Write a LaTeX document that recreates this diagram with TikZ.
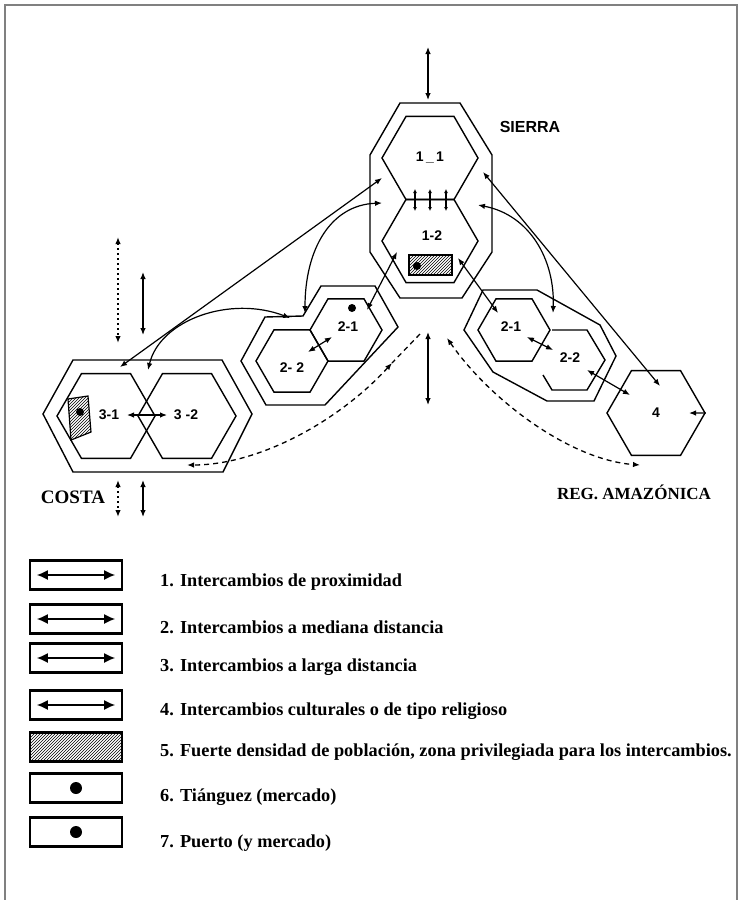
\documentclass[tikz,border=0pt]{standalone}
\usepackage{fontspec}
\setmainfont{Liberation Serif}
\setsansfont{Liberation Sans}
\usetikzlibrary{arrows.meta,shapes.geometric,patterns}

\begin{document}
\begin{tikzpicture}[x=1pt,y=-1pt,
    >={Latex[length=7pt,width=5.5pt]},
    hexa/.style={regular polygon, regular polygon sides=6, draw, line width=1.4pt,
      inner sep=0pt, font=\sffamily\bfseries\fontsize{14}{14}\selectfont},
    hexlabel/.style={inner sep=0pt, font=\sffamily\bfseries\fontsize{14}{14}\selectfont},
    rim/.style={line width=1.4pt, line join=miter},
    flow/.style={<->, line width=1.2pt},
    dashflow/.style={<->, line width=1.3pt, dash pattern=on 5pt off 4pt},
    dotflow/.style={<->, line width=1.6pt, dash pattern=on 2pt off 3pt},
    region/.style={font=\bfseries\fontsize{17}{17}\selectfont},
    keybox/.style={draw, line width=2.4pt, minimum width=92pt, minimum height=29pt, inner sep=0pt},
    keyarrow/.style={{Latex[length=11pt,width=10pt]}-{Latex[length=11pt,width=10pt]}, line width=1.6pt},
    keytext/.style={anchor=west, inner sep=0pt, font=\bfseries\fontsize{18.3}{18.3}\selectfont}]
  \useasboundingbox (0,0) rectangle (741,900);
  % frame
  \draw[gray, line width=1.5pt] (5,900) -- (5,5) -- (737,5) -- (737,900);

  % Sierra
  \draw[rim] (400,103) -- (460,103) -- (492,155) -- (492,252) -- (462,298)
    -- (400,298) -- (370,252) -- (370,155) -- cycle;
  \node[hexa, minimum size=96pt] (h11) at (430,158) {1\,\_\,1};
  \node[hexa, minimum size=96pt] (h12) at (430,241) {};
  \node[hexlabel] (l12) at (432,236) {1-2};
  \draw[pattern=north east lines, line width=1.2pt] (409,255) rectangle (452,275);
  \fill (417,266) circle (4);
  \foreach \xx in {415,430,446}
    \draw[<->, line width=1.4pt, >={Latex[length=4pt,width=4pt]}] (\xx,189) -- (\xx,211);
  \node[font=\sffamily\bfseries\fontsize{16}{16}\selectfont] (sierra) at (530,127) {SIERRA};
  \draw[flow] (428,47) -- (428,100);
  \draw[flow] (428,332) -- (428,405);

  % Sierra - Costa side
  \draw[rim] (241,361) -- (265,317) -- (303,316) -- (321,286) -- (375,286)
    -- (398,327) -- (325,405) -- (266,405) -- cycle;
  \node[hexa, minimum size=72pt] (h22a) at (292,361) {};
  \node[hexa, minimum size=72pt] (h21a) at (346,330) {};
  \node[hexlabel] (l21a) at (348,327) {2-1};
  \node[hexlabel] (l22a) at (292,368) {2- 2};
  \fill (352,308) circle (4);
  \draw[flow] (332,337) -- (308,352);
  \draw[flow] (397,252) -- (367,310);
  \draw[flow] (305,313) .. controls (305,250) and (330,205) .. (382,203);

  % Sierra - Amazonia side
  \draw[rim] (464,330) -- (483,290) -- (537,290) -- (600,325) -- (616,356)
    -- (594,401) -- (547,401) -- (493,372) -- cycle;
  \node[hexa, minimum size=72pt] (h21b) at (514,330) {};
  \node[hexlabel] (l21b) at (511,327) {2-1};
  \draw[rim] (552,330) -- (587,330) -- (605,360) -- (587,390) -- (552,390) -- (543,375);
  \node[hexlabel] (l22b) at (570,358) {2-2};
  \draw[flow] (527,337) -- (553,350);
  \draw[flow] (458,258) -- (498,313);
  \draw[flow] (478,205) .. controls (530,215) and (555,260) .. (553,313);

  % Amazonia
  \node[hexa, minimum size=98pt] (h4) at (656,413) {4};
  \draw[flow] (587,370) -- (630,395);
  \draw[flow] (483,172) -- (660,386);
  \draw[{Latex[length=7pt,width=5.5pt]}-, line width=1.2pt] (689,413) -- (h4.east);
  \node[region] (amaz) at (634,492) {REG. AMAZÓNICA};

  % Costa
  \draw[rim] (73,360) -- (222,360) -- (252,414) -- (223,472) -- (73,472) -- (43,414) -- cycle;
  \node[hexa, minimum size=98pt] (h31) at (106,416) {};
  \node[hexa, minimum size=98pt] (h32) at (187,416) {};
  \draw[pattern=north east lines, line width=1.2pt] (68,399) -- (88,396) -- (91,432) -- (71,440) -- cycle;
  \fill (80,412) circle (4);
  \node[hexlabel] (l31) at (109,415) {3-1};
  \node[hexlabel] (l32) at (186,415) {3 -2};
  \draw[flow] (127,415) -- (167,415);
  \draw[flow] (120,367) -- (382,178);
  \draw[flow] (148,370) .. controls (160,320) and (230,295) .. (290,318);
  \draw[dotflow] (118,237) -- (118,343);
  \draw[flow] (143,272) -- (143,335);
  \draw[dotflow] (118,480) -- (118,517);
  \draw[flow] (143,480) -- (143,517);
  \node[region, font=\bfseries\fontsize{19}{19}\selectfont] (costa) at (73,497) {COSTA};

  % dashed exchanges
  \draw[line width=1.3pt, dash pattern=on 5pt off 4pt] (420,334) -- (392,363);
  \draw[dashflow] (392,363) .. controls (340,420) and (260,465) .. (187,465);
  \draw[dashflow] (447,338) .. controls (490,400) and (570,460) .. (640,465);

  % legend
  \node[keybox] (k1) at (76,575) {};
  \node[keybox] (k2) at (76,619) {};
  \node[keybox] (k3) at (76,658) {};
  \node[keybox] (k4) at (76,705) {};
  \node[keybox, pattern=north east lines] (k5) at (76,747) {};
  \node[keybox] (k6) at (76,788) {};
  \node[keybox] (k7) at (76,832) {};
  \foreach \k in {k1,k2,k3,k4}
    \draw[keyarrow] ([xshift=8pt]\k.west) -- ([xshift=-8pt]\k.east);
  \fill (k6) circle (6);
  \fill (k7) circle (6);
  \node[keytext] (t1) at (160,582) {1. Intercambios de proximidad};
  \node[keytext] (t2) at (160,627) {2. Intercambios a mediana distancia};
  \node[keytext] (t3) at (160,667) {3. Intercambios a larga distancia};
  \node[keytext] (t4) at (160,711) {4. Intercambios culturales o de tipo religioso};
  \node[keytext] (t5) at (160,752) {5. Fuerte densidad de población, zona privilegiada para los intercambios.};
  \node[keytext] (t6) at (160,797) {6. Tiánguez (mercado)};
  \node[keytext] (t7) at (160,843) {7. Puerto (y mercado)};
\end{tikzpicture}
\end{document}
